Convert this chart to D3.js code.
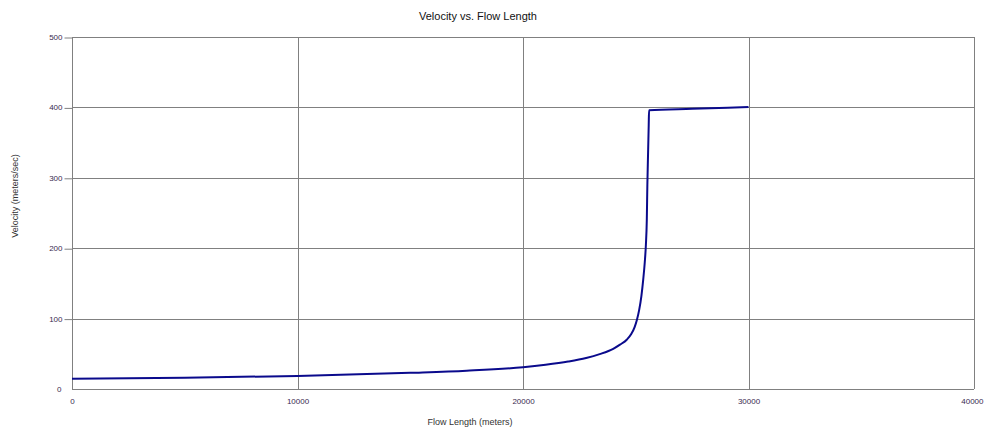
<!DOCTYPE html>
<html><head><meta charset="utf-8">
<script src="https://cdn.jsdelivr.net/npm/d3@7"></script>
<style>body{margin:0;background:#fff}svg{display:block}text{font-family:Arial,"Liberation Sans",sans-serif}</style>
</head><body><svg id="c" width="984" height="427"></svg>
<script>
const flowLength = [0,5000,10000,15000,17500,20000,21000,22000,22800,23400,24000,24300,24600,24800,24950,25050,25150,25250,25330,25400,25450,25490,25515,25550,25575,25590,27500,30000];
const velocity   = [14.5,16,18.5,23,26,31,34.5,39,44,49.5,57,63,70,78,88,98,112,132,155,180,205,240,290,340,375,396,398,400.5];
const xTicks = [0,10000,20000,30000,40000];
const yTicks = [0,100,200,300,400,500];
const title = "Velocity vs. Flow Length";
const xTitle = "Flow Length (meters)";
const yTitle = "Velocity (meters/sec)";

const svg = d3.select("#c");
const L=72,R=974,T=37,B=389;
const x = d3.scaleLinear().domain([0,40000]).range([L,R]);
const y = d3.scaleLinear().domain([0,500]).range([B,T]);

// grid
const g = svg.append("g");
g.selectAll(".vg").data(xTicks).join("line")
 .attr("x1",d=>Math.round(x(d))+0.5).attr("x2",d=>Math.round(x(d))+0.5)
 .attr("y1",T).attr("y2",B).attr("stroke","#808080");
g.selectAll(".hg").data(yTicks).join("line")
 .attr("y1",d=>Math.round(y(d))+0.5).attr("y2",d=>Math.round(y(d))+0.5)
 .attr("x1",L).attr("x2",R).attr("stroke","#808080");
g.append("line").attr("x1",L+0.5).attr("x2",L+0.5).attr("y1",T).attr("y2",B).attr("stroke","#808080");

// y axis
const ya = svg.append("g").attr("transform",`translate(${L+0.5},0)`)
 .call(d3.axisLeft(y).tickValues(yTicks).tickSize(8).tickPadding(2).tickFormat(d3.format("d")));
ya.select(".domain").remove();
ya.selectAll("line").attr("stroke","#808080").attr("transform","translate(0,0.5)");
ya.selectAll("text").attr("font-size",8).attr("fill","#3a2a50");
ya.selectAll(".tick").filter(d=>d===0).select("line").remove();
ya.selectAll(".tick").filter(d=>d===0).select("text").attr("x",-11);

// x axis
const xa = svg.append("g").attr("transform",`translate(0,${B})`)
 .call(d3.axisBottom(x).tickValues(xTicks).tickSize(0).tickPadding(9).tickFormat(d3.format("d")));
xa.select(".domain").remove();
xa.selectAll("text").attr("font-size",8).attr("fill","#3a2a50");
xa.selectAll(".tick").filter(d=>d===40000).select("text").attr("text-anchor","end").attr("x",9);

// line
svg.append("path").datum(flowLength.map((d,i)=>[d,velocity[i]]))
 .attr("fill","none").attr("stroke","#0a0a8c").attr("stroke-width",2)
 .attr("d",d3.line().x(d=>x(d[0])).y(d=>y(d[1])).curve(d3.curveMonotoneX));

// titles
svg.append("text").attr("x",478).attr("y",20).attr("text-anchor","middle").attr("font-size",11).attr("fill","#111").text(title);
svg.append("text").attr("x",470).attr("y",425).attr("text-anchor","middle").attr("font-size",9).attr("fill","#333").text(xTitle);
svg.append("text").attr("transform","translate(18,196) rotate(-90)").attr("text-anchor","middle").attr("font-size",9).attr("fill","#333").text(yTitle);
</script></body></html>
